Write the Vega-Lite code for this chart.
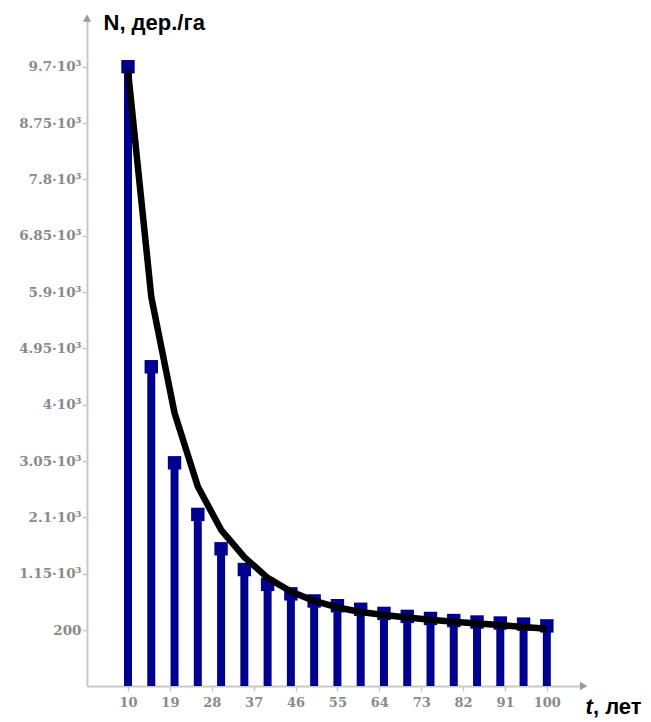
{
  "$schema": "https://vega.github.io/schema/vega-lite/v6.json",
  "autosize": "none",
  "width": 498,
  "height": 671,
  "padding": {"left": 87, "top": 15, "right": 66, "bottom": 36},
  "background": "white",
  "config": {"view": {"stroke": null}},
  "datasets": {
    "stems": [
      {"t": 10, "N": 9700}, {"t": 15, "N": 4640}, {"t": 20, "N": 3020},
      {"t": 25, "N": 2150}, {"t": 30, "N": 1570}, {"t": 35, "N": 1220},
      {"t": 40, "N": 970}, {"t": 45, "N": 810}, {"t": 50, "N": 690},
      {"t": 55, "N": 610}, {"t": 60, "N": 550}, {"t": 65, "N": 480},
      {"t": 70, "N": 430}, {"t": 75, "N": 395}, {"t": 80, "N": 360},
      {"t": 85, "N": 335}, {"t": 90, "N": 318}, {"t": 95, "N": 300},
      {"t": 100, "N": 270}
    ],
    "curve": [
      {"t": 10, "N": 9630}, {"t": 15, "N": 5820}, {"t": 20, "N": 3860},
      {"t": 25, "N": 2620}, {"t": 30, "N": 1890}, {"t": 35, "N": 1430},
      {"t": 40, "N": 1080}, {"t": 45, "N": 850}, {"t": 50, "N": 690},
      {"t": 55, "N": 580}, {"t": 60, "N": 505}, {"t": 65, "N": 455},
      {"t": 70, "N": 410}, {"t": 75, "N": 375}, {"t": 80, "N": 340},
      {"t": 85, "N": 310}, {"t": 90, "N": 283}, {"t": 95, "N": 252},
      {"t": 100, "N": 222}
    ]
  },
  "layer": [
    {
      "data": {"name": "stems"},
      "mark": {"type": "rule", "color": "#00008F", "strokeWidth": 8},
      "encoding": {
        "x": {
          "field": "t", "type": "quantitative",
          "scale": {"domain": [1.19, 108.2], "nice": false, "zero": false},
          "axis": {
            "values": [10, 19, 28, 37, 46, 55, 64, 73, 82, 91, 100],
            "title": null, "grid": false,
            "domainColor": "#c8c8c8", "domainWidth": 2,
            "tickColor": "#c8c8c8", "tickSize": 5, "tickWidth": 1.5,
            "labelFont": "DejaVu Serif", "labelFontWeight": "bold",
            "labelFontSize": 13, "labelColor": "#8a8a8a", "labelPadding": 5
          }
        },
        "y": {
          "field": "N", "type": "quantitative",
          "scale": {"domain": [-744, 10572], "nice": false, "zero": false},
          "axis": {
            "values": [200, 1150, 2100, 3050, 4000, 4950, 5900, 6850, 7800, 8750, 9700],
            "labelExpr": "datum.value == 200 ? '200' : (datum.value / 1000) + '·10³'",
            "grid": false,
            "domainColor": "#c8c8c8", "domainWidth": 2,
            "tickColor": "#c8c8c8", "tickSize": 5, "tickWidth": 1.5,
            "labelFont": "DejaVu Serif", "labelFontWeight": "bold",
            "labelFontSize": 13.5, "labelColor": "#8a8a8a", "labelPadding": 1,
            "title": "N, дер./га", "titleAngle": 0, "titleAlign": "left",
            "titleBaseline": "middle", "titleX": 16, "titleY": 7,
            "titleFont": "Liberation Sans", "titleFontSize": 22,
            "titleFontWeight": "bold", "titleColor": "#000000"
          }
        },
        "y2": {"datum": -744}
      }
    },
    {
      "data": {"name": "stems"},
      "mark": {"type": "point", "shape": "square", "filled": true, "color": "#00008F", "size": 180, "opacity": 1},
      "encoding": {
        "x": {"field": "t", "type": "quantitative"},
        "y": {"field": "N", "type": "quantitative"}
      }
    },
    {
      "data": {"name": "curve"},
      "mark": {"type": "line", "color": "#000000", "strokeWidth": 6.5, "interpolate": "linear", "strokeJoin": "round"},
      "encoding": {
        "x": {"field": "t", "type": "quantitative"},
        "y": {"field": "N", "type": "quantitative"}
      }
    },
    {
      "data": {"values": [{}]},
      "mark": {"type": "point", "shape": "triangle-up", "filled": true, "color": "#9a9a9a", "size": 70, "opacity": 1},
      "encoding": {"x": {"datum": 1.19}, "y": {"datum": 10520}}
    },
    {
      "data": {"values": [{}]},
      "mark": {"type": "point", "shape": "triangle-right", "filled": true, "color": "#9a9a9a", "size": 70, "opacity": 1},
      "encoding": {"x": {"datum": 107.9}, "y": {"datum": -744}}
    },
    {
      "data": {"values": [{}]},
      "mark": {"type": "text", "text": "t", "font": "Liberation Sans", "fontSize": 22, "fontWeight": "bold", "fontStyle": "italic", "align": "left", "baseline": "middle", "color": "#000000"},
      "encoding": {"x": {"datum": 108.3}, "y": {"datum": -1100}}
    },
    {
      "data": {"values": [{}]},
      "mark": {"type": "text", "text": ", лет", "font": "Liberation Sans", "fontSize": 22, "fontWeight": "bold", "align": "left", "baseline": "middle", "color": "#000000"},
      "encoding": {"x": {"datum": 109.9}, "y": {"datum": -1100}}
    }
  ]
}
